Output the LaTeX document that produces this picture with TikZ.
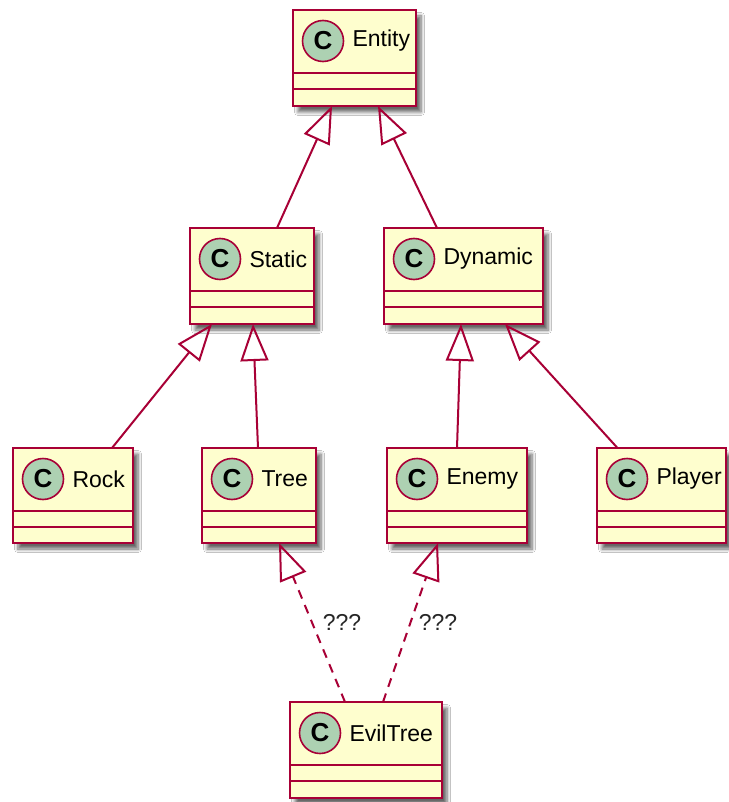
\documentclass[tikz,border=0pt]{standalone}
\usepackage{fontspec}
\setmainfont{Liberation Sans}
\usetikzlibrary{arrows.meta,shadows.blur,calc}
\definecolor{umlfill}{HTML}{FEFECE}
\definecolor{umlborder}{HTML}{A80036}
\definecolor{umlcirc}{HTML}{ADD1B2}
\tikzset{
 classbox/.style={draw=umlborder, fill=umlfill, line width=2.3pt, rectangle, inner sep=0pt, outer sep=0pt,
   blur shadow={shadow xshift=5pt, shadow yshift=-6pt, shadow blur radius=3.5pt, shadow blur steps=6, shadow opacity=60}},
 sepline/.style={draw=umlborder, line width=2.2pt},
 classcirc/.style={circle, draw=umlborder, fill=umlcirc, line width=1.6pt, minimum size=41pt, inner sep=0pt,
   font=\fontsize{26}{26}\selectfont\bfseries},
 classname/.style={anchor=west, inner sep=0pt, font=\fontsize{23}{23}\selectfont},
 inherit/.style={draw=umlborder, line width=2pt, -{Triangle[open, length=37pt, width=28pt, line width=2pt]}},
 realize/.style={inherit, dash pattern=on 9pt off 7pt},
 edgelbl/.style={inner sep=0pt, font=\fontsize{23}{23}\selectfont, text=black!85}
}
\newcommand\umlclass[6]{%
 \node[classbox, minimum width={(#4-#2)*1pt}, minimum height={(#5-#3)*1pt}] (#1) at ({(#2+#4)/2},{(#3+#5)/2}) {};
 \draw[sepline] ($(#1.north west)+(0,63)$) -- ($(#1.north east)+(0,63)$);
 \draw[sepline] ($(#1.north west)+(0,79)$) -- ($(#1.north east)+(0,79)$);
 \node[classcirc] (#1-c) at ($(#1.north west)+(30,31)$) {C};
 \node[classname] (#1-n) at ($(#1-c.east)+(8,0)$) {#6};
}
\begin{document}
\begin{tikzpicture}[x=1pt,y=-1pt]
\useasboundingbox[fill=white] (0,0) rectangle (728,802);
\umlclass{Entity}{293}{10}{416}{106}{Entity}
\umlclass{Static}{190}{228}{314}{324}{Static}
\umlclass{Dynamic}{384}{228}{543}{324}{Dynamic}
\umlclass{Rock}{13}{448}{133}{543}{Rock}
\umlclass{Tree}{202}{448}{316}{543}{Tree}
\umlclass{Enemy}{387}{448}{527}{543}{Enemy}
\umlclass{Player}{597}{448}{726}{543}{Player}
\umlclass{EvilTree}{290}{702}{442}{798}{EvilTree}

\draw[inherit] ([xshift=25pt]Static.north) -- ([xshift=-22.5pt]Entity.south);
\draw[inherit] ([xshift=-26.5pt]Dynamic.north) -- ([xshift=23.5pt]Entity.south);
\draw[inherit] ([xshift=39pt]Rock.north) -- ([xshift=-40pt]Static.south);
\draw[inherit] ([xshift=-1pt]Tree.north) -- ([xshift=1pt]Static.south);
\draw[inherit] (Enemy.north) -- ([xshift=-2.5pt]Dynamic.south);
\draw[inherit] ([xshift=-44pt]Player.north) -- ([xshift=41.5pt]Dynamic.south);
\draw[realize] ([xshift=-21pt]EvilTree.north) -- ([xshift=20pt]Tree.south);
\draw[realize] ([xshift=17pt]EvilTree.north) -- ([xshift=-19pt]Enemy.south);
\node[edgelbl] (q1) at (342,622) {???};
\node[edgelbl] (q2) at (438,622) {???};
\end{tikzpicture}
\end{document}
